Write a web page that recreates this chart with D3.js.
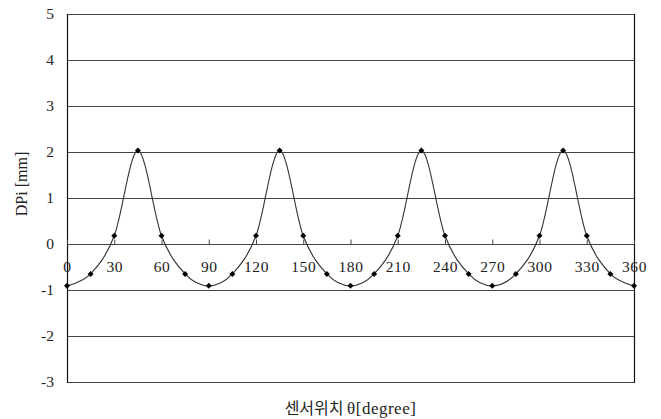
<!DOCTYPE html>
<html>
<head>
<meta charset="utf-8">
<script src="https://cdn.jsdelivr.net/npm/d3@7"></script>
<style>
  html, body { margin: 0; padding: 0; background: #fff; }
  svg { display: block; }
</style>
</head>
<body>
<svg id="chart" width="661" height="419"></svg>
<script>
// Sensor position (degrees) and measured DPi (mm)
const angles = [0, 15, 30, 45, 60, 75, 90, 105, 120, 135, 150, 165, 180,
                195, 210, 225, 240, 255, 270, 285, 300, 315, 330, 345, 360];
const dpi = [-0.91, -0.65, 0.18, 2.03, 0.18, -0.65, -0.91, -0.65, 0.18, 2.03, 0.18, -0.65, -0.91,
             -0.65, 0.18, 2.03, 0.18, -0.65, -0.91, -0.65, 0.18, 2.03, 0.18, -0.65, -0.91];
const xTicks = [0, 30, 60, 90, 120, 150, 180, 210, 240, 270, 300, 330, 360];
const yTicks = [-3, -2, -1, 0, 1, 2, 3, 4, 5];

const SERIF = "'Liberation Serif', 'Times New Roman', serif";
const svg = d3.select("#chart");
const plotL = 67, plotR = 634, plotT = 14, plotB = 382;

const x = d3.scaleLinear().domain([0, 360]).range([plotL, plotR]);
const y = d3.scaleLinear().domain([-3, 5]).range([plotB, plotT]);

// horizontal gridlines
svg.append("g").selectAll("line").data(yTicks).join("line")
  .attr("x1", plotL).attr("x2", plotR)
  .attr("y1", d => Math.round(y(d)) + 0.5).attr("y2", d => Math.round(y(d)) + 0.5)
  .attr("stroke", "#444").attr("stroke-width", 1);

// side frame
svg.append("line").attr("x1", plotL + 0.5).attr("x2", plotL + 0.5)
  .attr("y1", plotT).attr("y2", plotB + 1).attr("stroke", "#111").attr("stroke-width", 1.2);
svg.append("line").attr("x1", plotR + 0.5).attr("x2", plotR + 0.5)
  .attr("y1", plotT).attr("y2", plotB + 1).attr("stroke", "#111").attr("stroke-width", 1.2);

// y axis labels (plain hyphen for negatives)
const yAxis = d3.axisLeft(y).tickValues(yTicks).tickSize(0).tickPadding(13).tickFormat(d => String(d));
const gy = svg.append("g").attr("transform", `translate(${plotL},0)`).call(yAxis);
gy.select(".domain").remove();
gy.selectAll("text").style("font-size", "15.5px").style("font-family", SERIF).style("fill", "#222");

// x axis on the zero line: ticks point upward, labels below
const y0 = Math.round(y(0)) + 0.5;
const xAxis = d3.axisBottom(x).tickValues(xTicks).tickSizeInner(-5).tickSizeOuter(0).tickPadding(23)
  .tickFormat(d => String(d));
const gx = svg.append("g").attr("transform", `translate(0,${y0})`).call(xAxis);
gx.select(".domain").remove();
gx.selectAll(".tick line").attr("stroke", "#444");
gx.selectAll("text").attr("dy", "0.32em")
  .style("font-size", "15.5px").style("font-family", SERIF).style("fill", "#222")
  .style("letter-spacing", "0.6px");

// smoothed data line
const pts = angles.map((a, i) => [a, dpi[i]]);
const line = d3.line().x(d => x(d[0])).y(d => y(d[1])).curve(d3.curveCardinal.tension(0));
svg.append("path").datum(pts).attr("d", line)
  .attr("fill", "none").attr("stroke", "#333").attr("stroke-width", 1.1);

// diamond markers (square turned 45°)
const diamond = d3.symbol().type(d3.symbolSquare).size(18);
svg.append("g").selectAll("path").data(pts).join("path")
  .attr("d", diamond)
  .attr("transform", d => `translate(${x(d[0])},${y(d[1])}) rotate(45)`)
  .attr("fill", "#000");

// axis titles
svg.append("text")
  .attr("transform", "translate(27,184) rotate(-90)")
  .attr("text-anchor", "middle")
  .style("font-size", "16px").style("font-family", SERIF).style("fill", "#222")
  .text("DPi [mm]");

const title = svg.append("text")
  .attr("x", (plotL + plotR) / 2).attr("y", 414)
  .attr("text-anchor", "middle")
  .style("font-size", "17px").style("font-family", SERIF).style("fill", "#222");
title.append("tspan").style("font-family", "'Noto Sans CJK KR', sans-serif").style("font-size", "16px")
  .text("센서위치 ");
title.append("tspan").style("letter-spacing", "0.5px").text("θ[degree]");
</script>
</body>
</html>
